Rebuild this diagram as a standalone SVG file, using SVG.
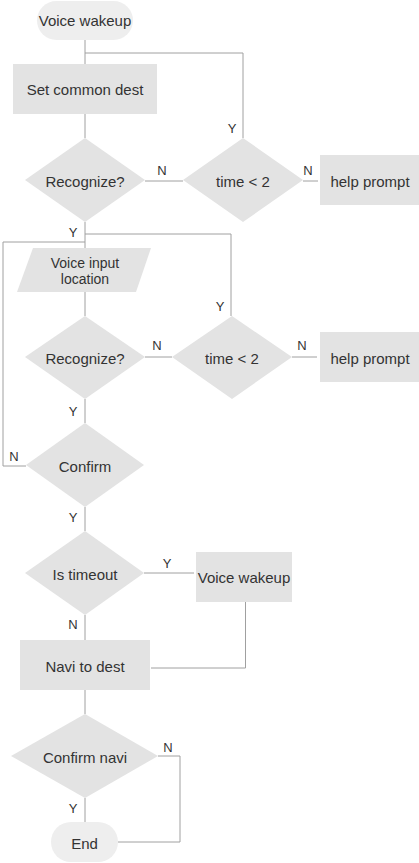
<svg xmlns="http://www.w3.org/2000/svg" width="419" height="863" viewBox="0 0 419 863">
<style>
.n{fill:#e3e3e3}
.p{fill:#eeeeee}
.t{font-family:"Liberation Sans",Arial,sans-serif;font-size:15px;fill:#333;text-anchor:middle;dominant-baseline:central}
.s{font-size:14px}
.l{font-family:"Liberation Sans",Arial,sans-serif;font-size:13px;fill:#333;text-anchor:middle;dominant-baseline:central}
#connectors path{fill:none;stroke:#a0a0a0;stroke-width:1}
</style>
<rect width="419" height="863" fill="#fff"/>
<g id="connectors">
<path d="M85 40V64"/>
<path d="M85 53H243V138"/>
<path d="M85 114V138"/>
<path d="M145 181H183"/>
<path d="M303 181H318"/>
<path d="M85 222V248"/>
<path d="M85 234H231V316"/>
<path d="M85 242H3V466H26"/>
<path d="M85 292V316"/>
<path d="M145 357H172"/>
<path d="M292 357H317"/>
<path d="M85 399V423"/>
<path d="M85 507V531"/>
<path d="M144 573H194"/>
<path d="M245.5 602V668H151"/>
<path d="M85 615V640"/>
<path d="M85 690V714"/>
<path d="M158 756H180V842H118"/>
<path d="M85 798V822"/>
</g>
<g id="labels">
<text class="l" x="232" y="128">Y</text>
<text class="l" x="162" y="170">N</text>
<text class="l" x="308" y="170">N</text>
<text class="l" x="73" y="232">Y</text>
<text class="l" x="220" y="306">Y</text>
<text class="l" x="157" y="345">N</text>
<text class="l" x="302" y="345">N</text>
<text class="l" x="73" y="411">Y</text>
<text class="l" x="14" y="456">N</text>
<text class="l" x="73" y="517">Y</text>
<text class="l" x="167" y="563">Y</text>
<text class="l" x="73" y="624">N</text>
<text class="l" x="168" y="747">N</text>
<text class="l" x="73" y="808">Y</text>
</g>
<g id="start"><rect class="p" x="37" y="1" width="96" height="39" rx="19.5"/><text class="t" x="85" y="20.5">Voice wakeup</text></g>
<g id="setdest"><rect class="n" x="13" y="64" width="144" height="50"/><text class="t" x="85" y="89">Set common dest</text></g>
<g id="recog1"><polygon class="n" points="85,138 145,180 85,222 25,180"/><text class="t" x="85" y="181">Recognize?</text></g>
<g id="time1"><polygon class="n" points="243,138 303,180 243,222 183,180"/><text class="t" x="243" y="181">time &lt; 2</text></g>
<g id="help1"><rect class="n" x="320" y="155" width="99" height="50"/><text class="t" x="370" y="181">help prompt</text></g>
<g id="input"><polygon class="n" points="33,248 151,248 136,292 17,292"/><text class="t s" x="85" y="263">Voice input</text><text class="t s" x="85" y="279">location</text></g>
<g id="recog2"><polygon class="n" points="85,316 145,357 85,399 25,357"/><text class="t" x="85" y="358">Recognize?</text></g>
<g id="time2"><polygon class="n" points="232,316 292,357 232,399 172,357"/><text class="t" x="232" y="358">time &lt; 2</text></g>
<g id="help2"><rect class="n" x="320" y="332" width="99" height="50"/><text class="t" x="370" y="358">help prompt</text></g>
<g id="confirm"><polygon class="n" points="85,423 144,465 85,507 26,465"/><text class="t" x="85" y="466">Confirm</text></g>
<g id="timeout"><polygon class="n" points="85,531 144,573 85,615 25,573"/><text class="t" x="85" y="574">Is timeout</text></g>
<g id="wakeup2"><rect class="n" x="196" y="552" width="96" height="50"/><text class="t" x="244" y="577">Voice wakeup</text></g>
<g id="navi"><rect class="n" x="20" y="640" width="130" height="50"/><text class="t" x="85" y="666">Navi to dest</text></g>
<g id="confirmnavi"><polygon class="n" points="85,714 158,756 85,798 11,756"/><text class="t" x="85" y="757">Confirm navi</text></g>
<g id="end"><rect class="p" x="51" y="822" width="67" height="40" rx="20"/><text class="t" x="84.5" y="843">End</text></g>
</svg>
